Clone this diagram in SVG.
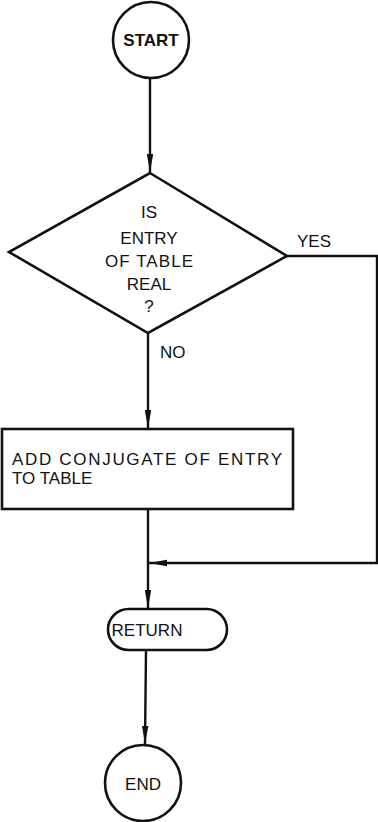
<svg xmlns="http://www.w3.org/2000/svg" width="378" height="822" viewBox="0 0 378 822">
  <style>
    .shape { fill: #ffffff; stroke: #111111; stroke-width: 2.6; }
    .line { fill: none; stroke: #111111; stroke-width: 2.4; }
    text { font-family: "Liberation Sans", "DejaVu Sans", sans-serif; font-size: 17px; fill: #111111; }
    .c { text-anchor: middle; }
  </style>
  <defs>
    <marker id="arrow" viewBox="0 0 18 8" refX="18" refY="4" markerWidth="18" markerHeight="8" markerUnits="userSpaceOnUse" orient="auto">
      <path d="M0,0.8 L18,4 L0,7.2 Z" fill="#111111"/>
    </marker>
  </defs>
  <rect width="378" height="822" fill="#ffffff"/>

  <g id="connectors">
    <path class="line" d="M150,78 L150,172" marker-end="url(#arrow)"/>
    <path class="line" d="M287,256 L377,256 L377,563 L149,563" marker-end="url(#arrow)"/>
    <path class="line" d="M148,333 L148,428" marker-end="url(#arrow)"/>
    <path class="line" d="M148,509 L148,608" marker-end="url(#arrow)"/>
    <path class="line" d="M146,650 L145,744" marker-end="url(#arrow)"/>
    <text x="297" y="247">YES</text>
    <text x="160" y="358">NO</text>
  </g>

  <g id="start">
    <circle class="shape" cx="151" cy="40" r="38"/>
    <text class="c" x="151" y="46" font-weight="bold" font-size="16">START</text>
  </g>

  <g id="decision">
    <path class="shape" d="M150,173 L287,256 L148,333 L9,252 Z"/>
    <text class="c" x="149" y="218">IS</text>
    <text class="c" x="149" y="244">ENTRY</text>
    <text class="c" x="149" y="267" textLength="88" lengthAdjust="spacing">OF TABLE</text>
    <text class="c" x="149" y="290">REAL</text>
    <text class="c" x="149" y="312">?</text>
  </g>

  <g id="process">
    <rect class="shape" x="2" y="429" width="291" height="80"/>
    <text x="12" y="465" textLength="270" lengthAdjust="spacing">ADD CONJUGATE OF ENTRY</text>
    <text x="12" y="484">TO TABLE</text>
  </g>

  <g id="return">
    <rect class="shape" x="108" y="609" width="119" height="41" rx="20.5" ry="20.5"/>
    <text class="c" x="147" y="636">RETURN</text>
  </g>

  <g id="end">
    <circle class="shape" cx="143" cy="783" r="38"/>
    <text class="c" x="143" y="790">END</text>
  </g>
</svg>
